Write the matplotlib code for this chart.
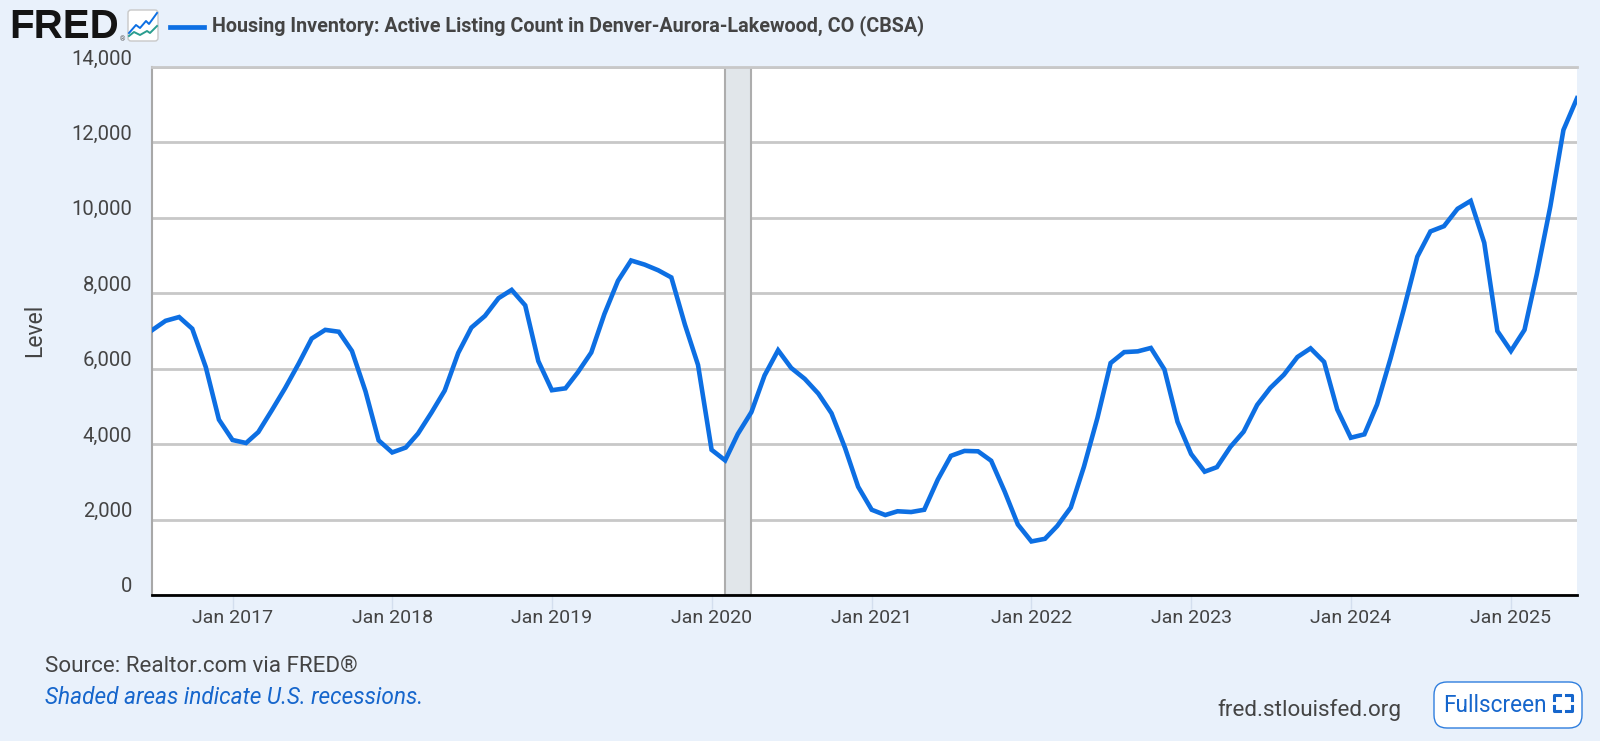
import pandas as pd
import matplotlib
matplotlib.use('Agg')
from matplotlib import pyplot as plt
from matplotlib.patches import FancyBboxPatch
from matplotlib.lines import Line2D
from matplotlib.transforms import IdentityTransform

plt.rcParams['font.family'] = ['Roboto', 'DejaVu Sans']

start_month = '2016-07-01'
listings = [
    7020, 7270, 7370, 7060, 6040, 4650,
    4110, 4030, 4320, 4900, 5480, 6130, 6800, 7030, 6980, 6470, 5400, 4100,
    3780, 3910, 4280, 4840, 5420, 6420, 7090, 7400, 7870, 8090, 7680, 6200,
    5430, 5480, 5900, 6430, 7450, 8330, 8870, 8760, 8610, 8420, 7170, 6100,
    3850, 3570, 4270, 4850, 5820, 6490, 6020, 5730, 5340, 4820, 3900, 2870,
    2260, 2120, 2220, 2200, 2260, 3060, 3690, 3820, 3810, 3560, 2740, 1870,
    1420, 1490, 1830, 2320, 3400, 4700, 6150, 6440, 6460, 6550, 5980, 4590,
    3740, 3270, 3390, 3930, 4330, 5040, 5490, 5840, 6310, 6540, 6180, 4920,
    4170, 4260, 5050, 6280, 7570, 8970, 9640, 9780, 10240, 10450, 9340, 7000,
    6470, 7030, 8500, 10300, 12330, 13170,
]
recession = ['2020-02-01', '2020-04-01']
y_ticks = [0, 2000, 4000, 6000, 8000, 10000, 12000, 14000]
x_years = [2017, 2018, 2019, 2020, 2021, 2022, 2023, 2024, 2025]

W, H = 1600, 741
BG = '#e9f1fb'
BLUE = '#0d6fe3'
LINK = '#1666cc'
TEXT = '#444444'

months = pd.date_range(start_month, periods=len(listings), freq='MS')


# pixel position -> figure fraction
def px(x, y):
    return x / W, 1 - y / H


def px_line(xs, ys, **kw):
    fig.add_artist(Line2D([x / W for x in xs], [1 - y / H for y in ys], **kw))


fig = plt.figure(figsize=(W / 100, H / 100), dpi=100, facecolor=BG)
ax = fig.add_axes([152 / W, 1 - 595 / H, (1577 - 152) / W, (595 - 67) / H])
ax.set_facecolor('white')

ax.axvspan(pd.Timestamp(recession[0]), pd.Timestamp(recession[1]), facecolor='#e1e6ea',
           edgecolor='#adadad', linewidth=1.5, zorder=1)
ax.plot(months, listings, color=BLUE, linewidth=3.3, solid_joinstyle='miter', zorder=3)

ax.set_xlim(months[0], months[-1])
ax.set_ylim(0, 14000)
ax.set_yticks(y_ticks)
ax.set_yticklabels([])
ax.grid(axis='y', color='#c8c8c8', linewidth=2, zorder=0)
ax.set_axisbelow(True)

ax.set_xticks([pd.Timestamp(f'{y}-01-01') for y in x_years])
ax.set_xticklabels([f'Jan {y}' for y in x_years], fontsize=14, color=TEXT)
ax.tick_params(axis='x', length=10, width=1, color='#d3deee', pad=0)
ax.tick_params(axis='y', length=0)

ax.spines['right'].set_visible(False)
ax.spines['top'].set_color('#c8c8c8')
ax.spines['top'].set_linewidth(2)
ax.spines['left'].set_color('#a8a8a8')
ax.spines['left'].set_linewidth(1.5)
ax.spines['bottom'].set_color('black')
ax.spines['bottom'].set_linewidth(2)

# y labels sit just above their gridlines, as on FRED
for v in y_ticks:
    ax.annotate(f'{v:,}', xy=(0, v), xycoords=('axes fraction', 'data'), xytext=(-20, 8),
                textcoords='offset pixels', ha='right', va='center', fontsize=14.6, color=TEXT)
fig.text(*px(35, 330), 'Level', rotation=90, ha='center', va='center', fontsize=16.5, color=TEXT)

# header
fig.text(*px(9, 27), 'FRED', fontsize=29, fontweight='bold', family='Liberation Sans',
         color='#141414', ha='left', va='center')
fig.text(*px(122, 40), '®', fontsize=5, color='#555555', ha='center', va='center')
fig.add_artist(FancyBboxPatch((128, H - 41), 30, 31, boxstyle='round,pad=0,rounding_size=3',
                              facecolor='white', edgecolor='#c8c8c8', linewidth=1,
                              transform=IdentityTransform()))
px_line([129, 136, 140, 146, 149, 157], [33, 25, 28, 21, 24, 13], color=BLUE, linewidth=1.4)
px_line([129, 134, 140, 147, 150, 157], [36, 32, 35, 31, 33, 26], color='#2a9d8f', linewidth=1.4)
px_line([170, 204], [27, 27], color=BLUE, linewidth=3.4)
fig.text(*px(212, 26), 'Housing Inventory: Active Listing Count in Denver-Aurora-Lakewood, CO (CBSA)',
         fontsize=14.2, fontweight='bold', color=TEXT, ha='left', va='center')

# footer
fig.text(*px(45, 666), 'Source: Realtor.com via FRED®', fontsize=16.1, color=TEXT, ha='left', va='center')
fig.text(*px(45, 698), 'Shaded areas indicate U.S. recessions.', fontsize=16.3, style='italic',
         color=LINK, ha='left', va='center')
fig.text(*px(1401, 710), 'fred.stlouisfed.org', fontsize=16.2, color=TEXT, ha='right', va='center')

fig.add_artist(FancyBboxPatch((1434, H - 728), 148, 46, boxstyle='round,pad=0,rounding_size=13',
                              facecolor='white', edgecolor='#2f7ede', linewidth=1,
                              transform=IdentityTransform()))
fig.text(*px(1443, 706), 'Fullscreen', fontsize=16.3, color=LINK, ha='left', va='center')
for cx, cy, dx, dy in [(1554, 695, 1, 1), (1572, 695, -1, 1), (1554, 711, 1, -1), (1572, 711, -1, -1)]:
    px_line([cx + dx * 6, cx, cx], [cy, cy, cy + dy * 5], color=LINK, linewidth=2.2)

fig.savefig('out.png', dpi=100, facecolor=BG)
